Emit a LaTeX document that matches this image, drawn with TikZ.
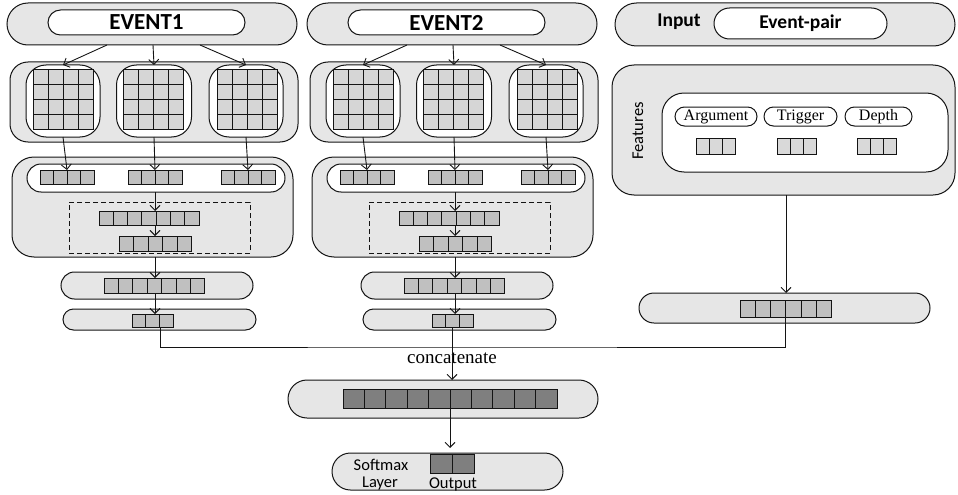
\documentclass[tikz,border=0pt]{standalone}
\usepackage{fontspec}
\setmainfont{Liberation Serif}
\newfontfamily\calfont{Carlito}
\usetikzlibrary{arrows.meta,calc,shapes.misc}
\definecolor{boxgray}{HTML}{E6E6E6}
\definecolor{cellgray}{HTML}{C0C0C0}
\definecolor{gridgray}{HTML}{D6D6D6}
\definecolor{featgray}{HTML}{D9D9D9}
\definecolor{darkcell}{HTML}{7F7F7F}
\definecolor{edge}{HTML}{141414}
\tikzset{
  rbox/.style={draw=edge, line width=1pt, inner sep=0pt, outer sep=0pt},
  pill/.style={rounded rectangle, draw=edge, line width=1pt, inner sep=0pt, outer sep=0pt},
  cellbox/.style={draw=edge, line width=1pt, inner sep=0pt, outer sep=0pt},
  celline/.style={draw=edge, line width=1pt},
  conn/.style={draw=edge, line width=0.9pt},
  arr/.style={draw=edge, line width=0.9pt, -{Straight Barb[length=5pt,width=10pt]}},
  dbox/.style={draw=edge, line width=0.9pt, dash pattern=on 5pt off 3pt, inner sep=0pt},
  evfont/.style={font=\calfont\bfseries\fontsize{23}{23}\selectfont},
  infont/.style={font=\calfont\bfseries\fontsize{19.5}{20}\selectfont},
  smfont/.style={font=\calfont\fontsize{16.5}{16.5}\selectfont},
  serfont/.style={font=\fontsize{16}{16}\selectfont},
}
\newcommand{\vecrow}[7]{%
  \node[cellbox, fill=#7, minimum width={#4*#5}, minimum height=#6, anchor=north west] (#1) at (#2,#3) {};
  \foreach \k in {2,...,#4} \draw[celline] ([xshift={(\k-1)*#5}]#1.north west) -- ([xshift={(\k-1)*#5}]#1.south west);
}
\newcommand{\gridbox}[3]{%
  \node[cellbox, fill=gridgray, minimum width=60, minimum height=60] (#1) at (#2,#3) {};
  \foreach \k in {1,2,3} {
    \draw[celline] ([xshift=\k*15]#1.north west) -- ([xshift=\k*15]#1.south west);
    \draw[celline] ([yshift=-\k*15]#1.north west) -- ([yshift=-\k*15]#1.north east);
  }
}
\begin{document}
\begin{tikzpicture}[x=1pt,y=-1pt]
\useasboundingbox (0,0) rectangle (958,495);

\foreach \c/\dx/\lab in {1/0/EVENT1,2/300/EVENT2} {
\begin{scope}[xshift=\dx]
  % top
  \node[pill, fill=boxgray, minimum width=290, minimum height=42] (top\c) at (152,24) {};
  \node[pill, fill=white, minimum width=197, minimum height=25, evfont] (name\c) at (146.5,22.5) {\lab};
  % layer 2
  \node[rbox, fill=boxgray, minimum width=288, minimum height=80, rounded corners=18] (ltwo\c) at (154,102) {};
  \node[rbox, fill=white, minimum width=74, minimum height=72, rounded corners=20] (gba\c) at (63,101) {};
  \node[rbox, fill=white, minimum width=75, minimum height=72, rounded corners=20] (gbb\c) at (154,101) {};
  \node[rbox, fill=white, minimum width=74, minimum height=72, rounded corners=20] (gbc\c) at (246,101) {};
  \gridbox{ga\c}{63}{99.5}
  \gridbox{gb\c}{153.5}{99.5}
  \gridbox{gc\c}{247}{99.5}
  \draw[arr] ([xshift=-45]top\c.south) -- (gba\c.north);
  \draw[arr] ([xshift=1]top\c.south) -- (gbb\c.north);
  \draw[arr] ([xshift=48]top\c.south) -- (gbc\c.north);
  % layer 3
  \node[rbox, fill=boxgray, minimum width=281, minimum height=100, rounded corners=22] (lthree\c) at (152.5,207) {};
  \node[pill, fill=white, minimum width=258, minimum height=28] (pthree\c) at (156,178) {};
  \vecrow{va\c}{40}{170}{4}{13.5}{14}{cellgray}
  \vecrow{vb\c}{128}{170}{4}{13.5}{14}{cellgray}
  \vecrow{vc\c}{221}{170}{4}{13.5}{14}{cellgray}
  \node[dbox, minimum width=181, minimum height=51] (dz\c) at (159.5,227.5) {};
  \vecrow{vs\c}{99}{211}{7}{14.3}{14}{cellgray}
  \vecrow{vf\c}{119}{236}{5}{14.5}{15}{cellgray}
  \coordinate (ax\c) at (155,0);
  \draw[arr] (gba\c.south) -- (va\c.north);
  \draw[arr] (gbb\c.south) -- (vb\c.north);
  \draw[arr] (gbc\c.south) -- (vc\c.north);
  \draw[arr] (pthree\c.south -| ax\c) -- (vs\c.north -| ax\c);
  \draw[arr] (vs\c.south -| ax\c) -- (vf\c.north -| ax\c);
  % layer 4
  \node[pill, fill=boxgray, minimum width=192, minimum height=27] (pfour\c) at (157,285.5) {};
  \vecrow{vg\c}{104}{278}{7}{14.4}{15}{cellgray}
  \draw[arr] (lthree\c.south -| ax\c) -- (vg\c.north -| ax\c);
  % layer 5
  \node[pill, fill=boxgray, minimum width=193, minimum height=21] (pfive\c) at (159.5,319.5) {};
  \vecrow{vh\c}{132}{314}{3}{13.7}{13}{cellgray}
  \draw[arr] (vg\c.south -| ax\c) -- (vh\c.north -| ax\c);
\end{scope}
}

% right side
\node[pill, fill=boxgray, minimum width=340, minimum height=43] (inbox) at (785,24.5) {};
\node[infont] (inp) at (679,22) {Input};
\node[pill, fill=white, minimum width=173, minimum height=31, infont] (ep) at (800.5,23.5) {Event-pair};

\node[rbox, fill=boxgray, minimum width=343, minimum height=130, rounded corners=22] (feat) at (783.5,130) {};
\node[rbox, fill=white, minimum width=286, minimum height=79, rounded corners=22] (featin) at (805,132.5) {};
\node[smfont, rotate=90] (ftlab) at (638,131) {Features};
\node[pill, fill=white, minimum width=82, minimum height=19, serfont] (arg) at (716,116.5) {Argument};
\node[pill, fill=white, minimum width=73, minimum height=19, serfont] (trg) at (800.5,116.5) {Trigger};
\node[pill, fill=white, minimum width=67, minimum height=19, serfont] (dep) at (878.5,116.5) {Depth};
\vecrow{fa}{696}{138}{3}{13.3}{16}{featgray}
\vecrow{fb}{777}{138}{3}{13.3}{16}{featgray}
\vecrow{fc}{857}{138}{3}{13.3}{16}{featgray}

\node[pill, fill=boxgray, minimum width=291, minimum height=30] (rp) at (784.5,308) {};
\vecrow{rv}{740}{300}{6}{15.3}{17}{cellgray}
\coordinate (axr) at (786,0);
\draw[arr] (feat.south -| axr) -- (rp.north -| axr);

% concatenation
\node[pill, fill=boxgray, minimum width=310, minimum height=38] (cp) at (443,399) {};
\vecrow{cv}{343}{389}{10}{21.4}{19}{darkcell}
\coordinate (hl) at (452,347);
\draw[conn] ([xshift=7.5]vh1.south) |- (hl) -| (rv.south);
\draw[conn] (vh2.south) -- (vh2.south |- hl);
\node[serfont, font=\fontsize{19}{19}\selectfont] (cat) at (452,358) {concatenate};
\draw[arr] (hl) -- (cp.north -| hl);

% softmax
\node[pill, fill=boxgray, minimum width=231, minimum height=37] (sm) at (447.5,471.5) {};
\vecrow{ov}{430}{454}{2}{22}{19}{darkcell}
\coordinate (axc) at (450,0);
\draw[arr, shorten >=5pt] (cv.south -| axc) -- (sm.north -| axc);
\node[smfont] (smx) at (381,465) {Softmax};
\node[smfont] (lyr) at (380,484) {Layer};
\node[smfont] (outl) at (453,484) {Output};
\end{tikzpicture}
\end{document}
